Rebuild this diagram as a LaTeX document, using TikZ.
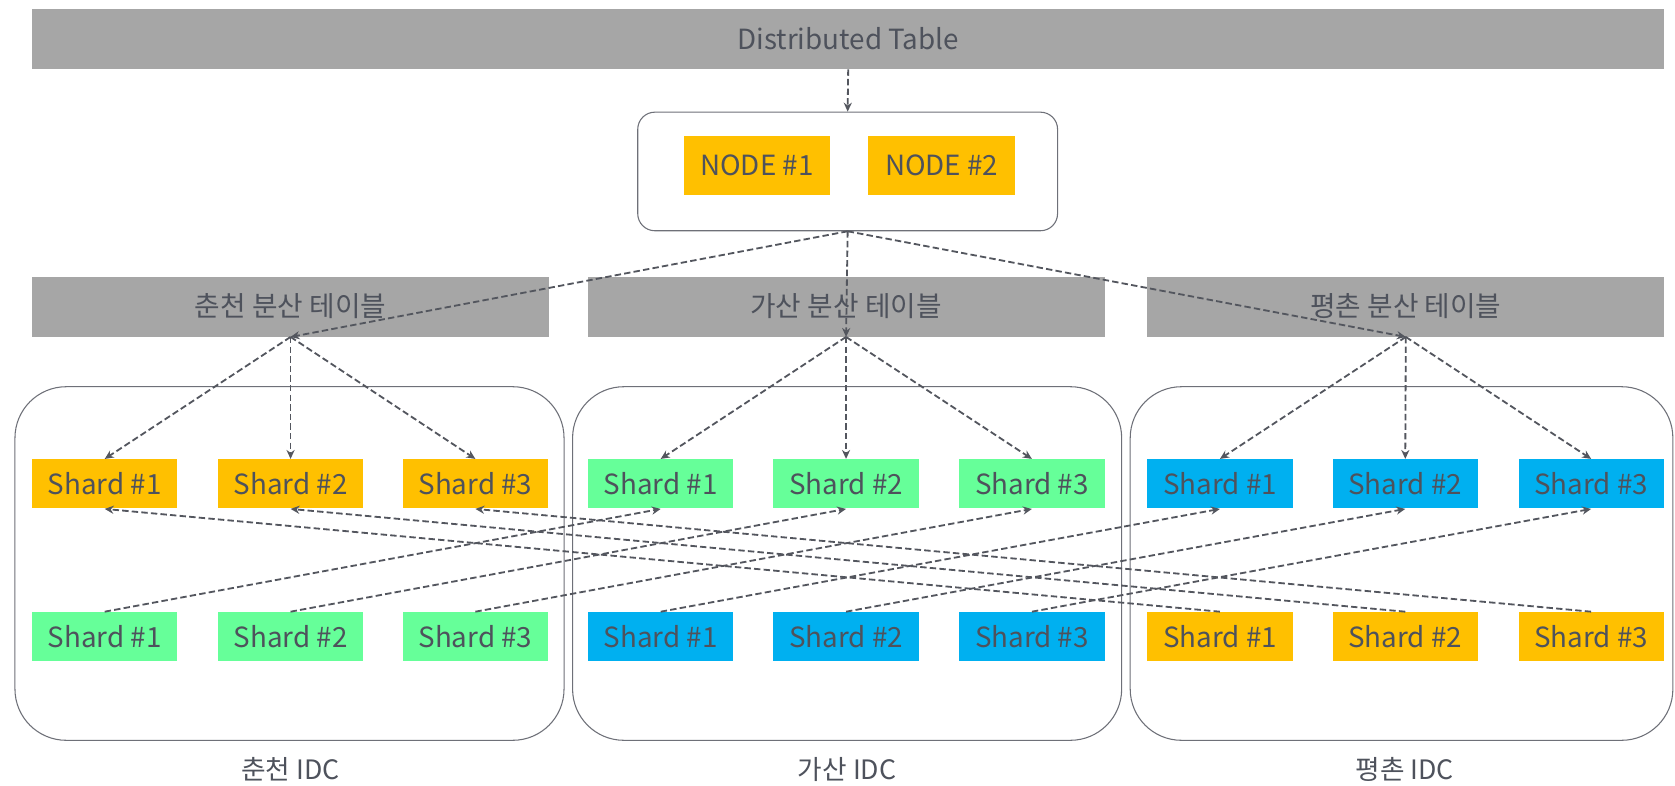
\documentclass[tikz,border=0pt]{standalone}
\usepackage{fontspec}
\setmainfont{Noto Sans CJK KR}
\usetikzlibrary{arrows.meta}

\definecolor{barGray}{HTML}{A6A6A6}
\definecolor{txtGray}{HTML}{4E525C}
\definecolor{lineGray}{HTML}{53565E}
\definecolor{edgeGray}{HTML}{6E7078}
\definecolor{shOrange}{HTML}{FFC000}
\definecolor{shGreen}{HTML}{66FF99}
\definecolor{shBlue}{HTML}{00B0F0}

\tikzset{
  labelfont/.style={font=\fontsize{13}{16}\selectfont, text=txtGray},
  bar/.style={labelfont, fill=barGray, inner sep=0pt, minimum height=28pt},
  shard/.style={labelfont, inner sep=0pt, minimum width=68pt, minimum height=23pt},
  holder/.style={draw=edgeGray, line width=0.5pt, fill=white, inner sep=0pt},
  conn/.style={draw=lineGray, line width=0.85pt, dash pattern=on 3pt off 1.5pt,
    -{Stealth[length=4.2pt,width=3.8pt]}},
}

\begin{document}
\begin{tikzpicture}[x=0.5pt, y=-0.5pt]
\path[use as bounding box] (0,0) rectangle (1568,735);

% top-level table
\node[bar, minimum width=764pt] (dist) at (794,36.5) {Distributed Table};

% node group
\node[holder, rounded corners=8pt, minimum width=196.5pt, minimum height=55.5pt] (grp) at (793.5,160.5) {};
\node[shard, fill=shOrange, minimum width=68.5pt, minimum height=28pt] (n1) at (708.5,155) {NODE \#1};
\node[shard, fill=shOrange, minimum width=68.5pt, minimum height=28pt] (n2) at (881.5,155) {NODE \#2};

% regional tables
\node[bar, minimum width=242pt] (tA) at (272,287) {춘천 분산 테이블};
\node[bar, minimum width=242pt] (tB) at (792,287) {가산 분산 테이블};
\node[bar, minimum width=242pt] (tC) at (1316,287) {평촌 분산 테이블};

% data centres
\node[holder, rounded corners=24pt, minimum width=257pt, minimum height=165.5pt] (idcA) at (271,527.5) {};
\node[holder, rounded corners=24pt, minimum width=257pt, minimum height=165.5pt] (idcB) at (793,527.5) {};
\node[holder, rounded corners=24pt, minimum width=254pt, minimum height=165.5pt] (idcC) at (1312,527.5) {};
\node[labelfont, font=\fontsize{12.5}{15}\selectfont] (lA) at (272,720) {춘천 IDC};
\node[labelfont, font=\fontsize{12.5}{15}\selectfont] (lB) at (793,720) {가산 IDC};
\node[labelfont, font=\fontsize{12.5}{15}\selectfont] (lC) at (1315,720) {평촌 IDC};

% primary shards
\node[shard, fill=shOrange] (a1) at (98,453) {Shard \#1};
\node[shard, fill=shOrange] (a2) at (272,453) {Shard \#2};
\node[shard, fill=shOrange] (a3) at (445,453) {Shard \#3};
\node[shard, fill=shGreen] (b1) at (618.5,453) {Shard \#1};
\node[shard, fill=shGreen] (b2) at (792,453) {Shard \#2};
\node[shard, fill=shGreen] (b3) at (966,453) {Shard \#3};
\node[shard, fill=shBlue] (c1) at (1142,453) {Shard \#1};
\node[shard, fill=shBlue] (c2) at (1315.5,453) {Shard \#2};
\node[shard, fill=shBlue] (c3) at (1489.5,453) {Shard \#3};

% replica shards
\node[shard, fill=shGreen] (ra1) at (98,596) {Shard \#1};
\node[shard, fill=shGreen] (ra2) at (272,596) {Shard \#2};
\node[shard, fill=shGreen] (ra3) at (445,596) {Shard \#3};
\node[shard, fill=shBlue] (rb1) at (618.5,596) {Shard \#1};
\node[shard, fill=shBlue] (rb2) at (792,596) {Shard \#2};
\node[shard, fill=shBlue] (rb3) at (966,596) {Shard \#3};
\node[shard, fill=shOrange] (rc1) at (1142,596) {Shard \#1};
\node[shard, fill=shOrange] (rc2) at (1315.5,596) {Shard \#2};
\node[shard, fill=shOrange] (rc3) at (1489.5,596) {Shard \#3};

% routing
\draw[conn] (dist.south) -- (grp.north);
\foreach \t in {tA,tB,tC} \draw[conn] (grp.south) -- (\t.south);
\foreach \t/\g in {tA/a,tB/b,tC/c}
  \foreach \i in {1,2,3} \draw[conn] (\t.south) -- (\g\i.north);

% replication
\foreach \i in {1,2,3} {
  \draw[conn] (ra\i.north) -- (b\i.south);
  \draw[conn] (rb\i.north) -- (c\i.south);
  \draw[conn] (rc\i.north) -- (a\i.south);
}
\end{tikzpicture}
\end{document}
